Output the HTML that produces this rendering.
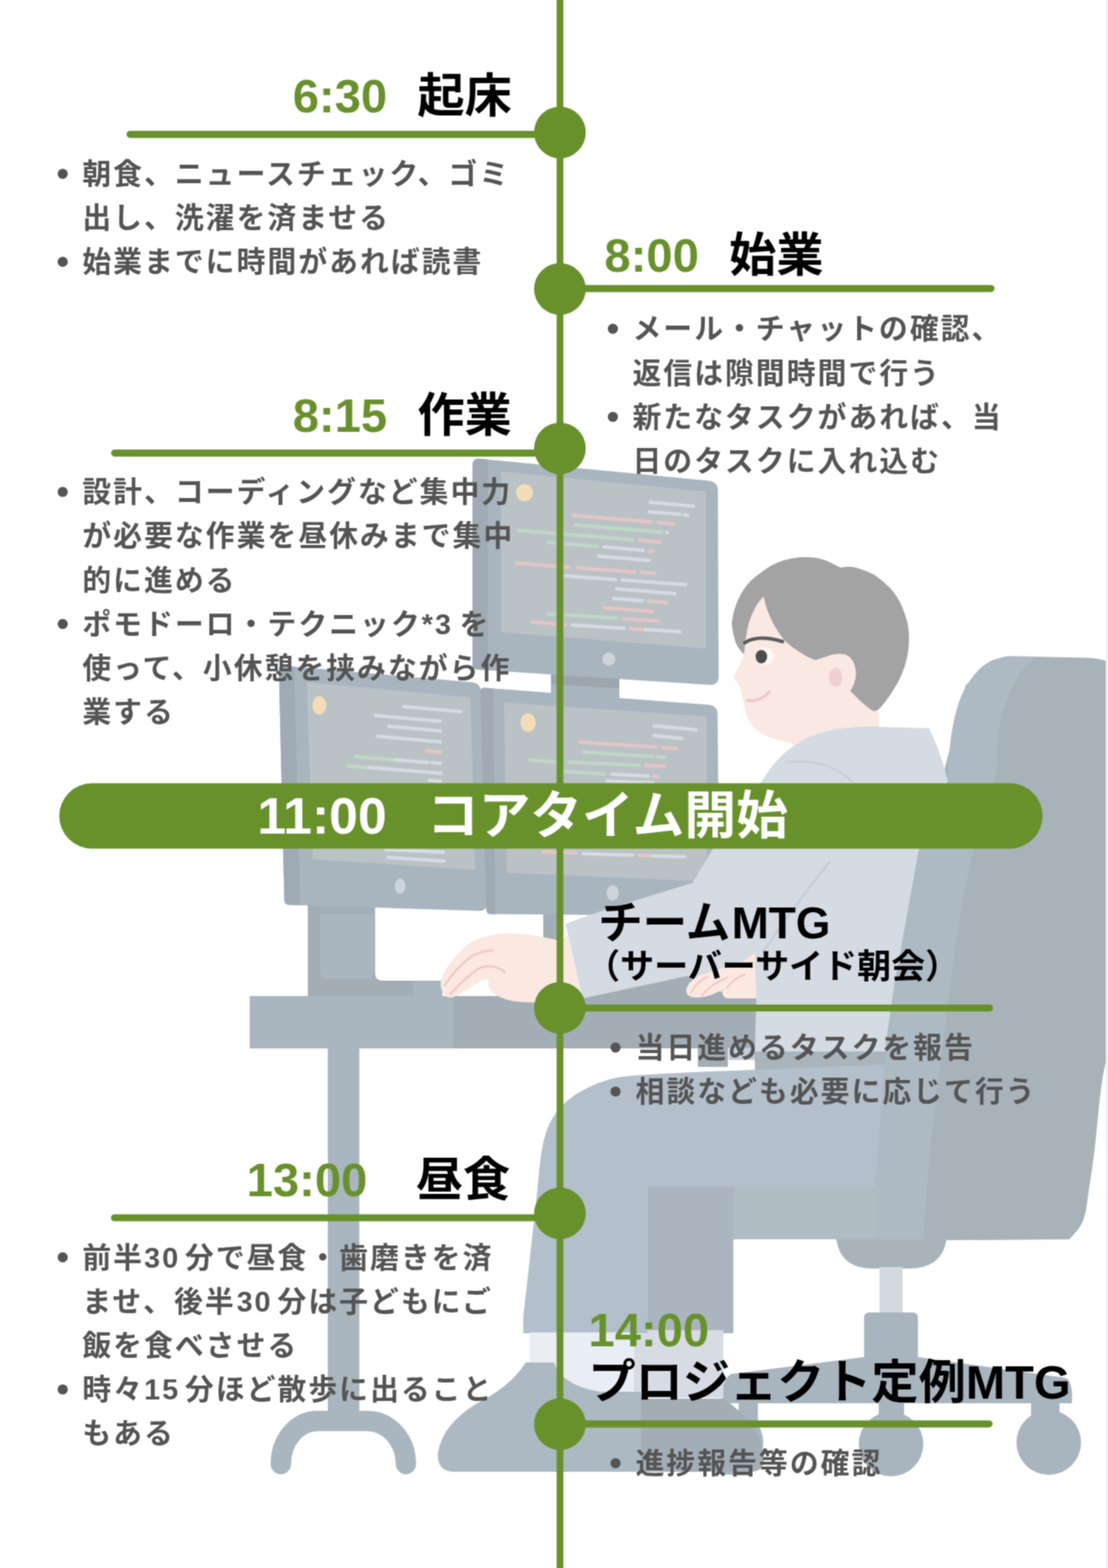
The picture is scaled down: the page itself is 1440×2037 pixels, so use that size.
<!DOCTYPE html>
<html lang="ja">
<head>
<meta charset="utf-8">
<title>エンジニアの1日のスケジュール</title>
<style>
html,body{margin:0;padding:0;background:#fff}
html{overflow:hidden}
body{width:1440px;height:2037px;overflow:hidden;font-family:"Liberation Sans",sans-serif}
#page{position:relative;width:1440px;height:2037px;overflow:hidden;background:#fff}
svg#art{position:absolute;left:-10px;top:-10px;display:block}
svg#art text{font-family:"Liberation Sans","Noto Sans CJK JP",sans-serif;font-weight:700}
svg#art text.b{font-size:37.5px;letter-spacing:2.59px;fill:#545454}
/* real text layer: kept in the DOM for content, SVG text above is what is painted */
#content{position:absolute;left:0;top:0;width:1440px;height:2037px;color:transparent;font-weight:700}
#content h2,#content p,#content ul{position:absolute;margin:0;padding:0;white-space:nowrap;font-weight:700}
#content ul{list-style:none;font-size:37.5px;line-height:57px;letter-spacing:2.59px}
#content li{margin:0;padding:0}
</style>
</head>
<body>
<div id="page">
<svg id="art" width="1460" height="2057" viewBox="-10 -10 1460 2057">
<defs>
<filter id="soft" filterUnits="userSpaceOnUse" x="-10" y="-10" width="1460" height="2057" color-interpolation-filters="sRGB"><feConvolveMatrix order="3" kernelMatrix="0.0509 0.1238 0.0509 0.1238 0.3012 0.1238 0.0509 0.1238 0.0509" edgeMode="duplicate"/></filter>
</defs>
<g filter="url(#soft)">
<rect x="-10" y="-10" width="1460" height="2057" fill="#fff"/>
<g id="illustration" stroke-linejoin="round" stroke-linecap="round">

<!-- ===== chair ===== -->
<g id="chair">
  <!-- back shell (darker) -->
  <path d="M1340 853L1412 854.5C1426 855 1436 858 1450 862L1450 1368L1440 1368C1438.8 1373.3 1435.0 1388.0 1433.0 1400.0C1431.0 1412.0 1429.7 1425.0 1428.0 1440.0C1426.3 1455.0 1425.0 1473.3 1423.0 1490.0C1421.0 1506.7 1418.5 1524.2 1416.0 1540.0C1413.5 1555.8 1412.3 1573.3 1408.0 1585.0C1403.7 1596.7 1393.0 1605.8 1390.0 1610.0L1120 1612L1165 1215L1225 1010L1255 890L1305 853Z" fill="#a8b2b9"/>
  <!-- front face of the back (lighter strip) -->
  <path d="M1310.8 852.3C1306.7 853.5 1293.6 855.3 1286.0 859.6C1278.4 863.9 1271.3 870.0 1265.0 878.0C1258.7 886.0 1252.5 896.3 1248.0 907.5C1243.5 918.7 1240.5 931.8 1238.0 945.0C1235.5 958.2 1234.1 974.5 1232.7 986.7C1231.3 998.9 1236.1 998.3 1229.6 1018.0C1223.1 1037.7 1203.7 1072.2 1193.8 1105.0C1183.9 1137.8 1176.5 1175.8 1170.0 1215.0C1163.5 1254.2 1159.8 1300.8 1155.0 1340.0C1150.2 1379.2 1144.3 1416.7 1141.0 1450.0C1137.7 1483.3 1136.5 1513.0 1135.0 1540.0C1133.5 1567.0 1132.5 1600.0 1132.0 1612.0L1200.0 1612.0C1200.8 1600.0 1202.7 1567.0 1205.0 1540.0C1207.3 1513.0 1210.0 1483.3 1213.8 1450.0C1217.5 1416.7 1222.5 1379.2 1227.5 1340.0C1232.5 1300.8 1237.5 1254.2 1243.8 1215.0C1250.0 1175.8 1256.6 1139.6 1265.0 1105.0C1273.4 1070.4 1289.0 1029.0 1294.0 1007.5C1299.0 986.0 1294.0 987.8 1295.0 976.0C1296.0 964.2 1297.4 948.9 1300.0 936.7C1302.6 924.5 1306.2 913.8 1310.8 903.0C1315.4 892.2 1321.3 880.3 1327.5 872.0C1333.7 863.7 1344.6 856.2 1348.0 853.0Z" fill="#adbac3"/>
  <!-- seat cushion under the thigh -->
  <path d="M930 1538 L1140 1538 L1140 1610 L930 1610 Q905 1608 905 1574 Q905 1540 930 1538 Z" fill="#b0bcc3"/>
  <!-- mechanism -->
  <path d="M1087 1610 L1230 1610 Q1225 1648 1180 1648 L1135 1648 Q1092 1648 1087 1610 Z" fill="#a8b3ba"/>
  <!-- gas lift -->
  <rect x="1143" y="1646" width="30" height="62" fill="#d3d9e0"/>
  <!-- hub -->
  <rect x="1123" y="1705" width="70" height="70" rx="6" fill="#a9b5be"/>
  <!-- star base -->
  <path d="M1123 1763 L1193 1763 L1385 1790 Q1395 1795 1393 1823 L940 1823 Q935 1795 950 1785 Z" fill="#a9b5be"/>
  <!-- caster stems -->
  <rect x="1142" y="1820" width="33" height="36" fill="#a9b5be"/>
  <rect x="1340" y="1820" width="37" height="30" fill="#a9b5be"/>
  <rect x="960" y="1820" width="25" height="30" fill="#a9b5be"/>
  <!-- casters -->
  <circle cx="1158" cy="1876" r="42" fill="#a9b5be"/>
  <circle cx="1363" cy="1874" r="42" fill="#a9b5be"/>
  <circle cx="950" cy="1874" r="42" fill="#a9b5be"/>
</g>

<!-- ===== desk ===== -->
<g id="desk">
  <rect x="426" y="1355" width="41" height="500" fill="#a9b6bf"/>
  <path d="M365 1902 A47.5 56 0 0 1 412.5 1846 L477.5 1846 A50 56 0 0 1 527.5 1902" fill="none" stroke="#a9b6bf" stroke-width="26.5"/>
  <rect x="324.5" y="1294" width="700" height="68" fill="#a9b6bf"/>
  <path d="M589 1294 L757 1294 L893 1266 L990 1266 L990 1362 L589 1362 Z" fill="#a3adb5"/>
</g>

<!-- ===== monitor stands ===== -->
<g id="stands">
  <path d="M400 1172 L487.5 1172 L487.5 1264 Q487.5 1274 497.5 1274 L537 1274 L537 1294 L400 1294 Z" fill="#a3adb6"/>
  <rect x="537" y="1274" width="38" height="20" fill="#a9b6bf"/>
  <path d="M416 1187 L486 1187 L486 1262 Q486 1272 476 1272 L426 1272 Q416 1272 416 1262 Z" fill="#a9b6bf"/>
  <rect x="706" y="1180" width="22" height="116" fill="#a3adb6"/>
  <rect x="716" y="872" width="89" height="40" fill="#a9b5be"/>
  <path d="M716 874 L805 880 L805 894 L716 889 Z" fill="#9ba6af"/>
</g>

<!-- ===== top monitor ===== -->
<g id="mon-top">
  <path d="M614 605 Q614 594.6 624 595.9 L921 624.4 Q933 625.6 933 637.6 L934 878.6 Q934 890.6 922 889.8 L620 869.8 Q614 869.4 614 863.4 Z" fill="#a9b5be"/>
  <path d="M614 605 Q614 594.6 624 595.9 L634 597 L634 870.7 L620 869.8 Q614 869.4 614 863.4 Z" fill="#9faab4"/>
  <path d="M651.3 612.5 L917.5 638.8 L917.5 842.5 L651.3 821.3 Z" fill="#bbc2c6"/>
  <circle cx="681.8" cy="640" r="11" fill="#f3dcb8"/>
  <circle cx="791.3" cy="856.3" r="8.5" fill="#cdd4dc"/>
</g>

<!-- ===== bottom-left monitor ===== -->
<g id="mon-bl">
  <path d="M362.5 870.5 Q362.5 864.3 368.5 864.8 L612.8 886.3 Q624.8 887.4 625.1 899.4 L633 1171.8 Q633.3 1183.8 621.3 1183.3 L375.5 1175.5 Q369.8 1175.3 369.5 1169.5 Z" fill="#a9b5be"/>
  <path d="M362.5 870.5 Q362.5 864.3 368.5 864.6 L382.5 865.9 L390 1176 L375.5 1175.5 Q369.8 1175.3 369.5 1169.5 Z" fill="#9faab4"/>
  <path d="M398.8 886.5 L611.3 906.3 L617.5 1130 L406.3 1116.3 Z" fill="#bbc2c6"/>
  <ellipse cx="415" cy="916.3" rx="9" ry="12" fill="#f3dcb8"/>
  <ellipse cx="520" cy="1151.3" rx="7" ry="10" fill="#cdd4dc"/>
</g>

<!-- ===== bottom-right monitor ===== -->
<g id="mon-br">
  <path d="M624 899.5 Q624 893 630 893.5 L920.5 915.4 Q932.5 916.3 932.6 928.3 L935 1178 Q935 1190 923 1189.9 L638 1187.5 Q632.2 1187.5 632 1181.5 Z" fill="#a9b5be"/>
  <path d="M624 899.5 Q624 893 630 893.5 L641 894.5 L644 1187.6 L638 1187.5 Q632.2 1187.5 632 1181.5 Z" fill="#9faab4"/>
  <path d="M655 912.5 L918.8 931 L918.8 1145 L658.8 1133.8 Z" fill="#bbc2c6"/>
  <ellipse cx="686.3" cy="938.8" rx="10" ry="12" fill="#f3dcb8"/>
  <ellipse cx="796.3" cy="1160" rx="8" ry="10" fill="#cdd4dc"/>
</g>

<g id="code" fill="none" stroke-width="4.6" stroke-linecap="round">
<path stroke="#d6dbe3" d="M845.2 652.5L901.0 657.5M844.0 665.0L883.5 668.0M889.0 668.8L893.5 669.5M866.5 691.8L867.2 692.2M785.2 710.5L836.0 715.0M777.8 722.5L843.5 728.0M734.0 748.0L799.8 753.0M809.0 753.5L891.0 759.5M801.5 765.0L877.2 771.2M797.8 777.5L834.8 780.5M744.0 812.0L811.0 816.2M837.8 817.8L883.5 820.8M525.2 918.0L598.5 924.5M487.8 929.5L572.2 937.0M505.2 943.5L572.2 949.5M490.2 956.5L572.2 963.8M512.8 987.0L556.0 990.5M561.5 990.8L572.2 991.8M477.8 997.0L573.5 1004.5M557.8 1013.8L572.2 1015.0M501.5 1103.8L576.0 1107.0M504.0 1113.8L577.2 1118.8M850.2 943.0L904.8 948.0M850.2 955.8L886.0 959.2M795.2 1005.8L842.2 1008.2M789.0 1014.5L848.5 1017.0M757.8 1109.0L822.2 1111.0M847.8 1111.8L889.8 1113.0"/>
<path stroke="#e4c6c4" d="M745.2 669.5L846.0 678.0M855.2 678.8L876.0 680.8M831.5 702.0L857.2 704.2M844.0 715.8L848.5 716.5M671.5 731.5L739.8 737.0M750.2 737.5L824.8 743.2M834.0 743.5L851.0 745.0M842.8 780.8L866.0 782.8M785.2 789.5L848.5 794.5M810.2 803.8L856.0 807.0M691.5 808.0L734.8 811.5M820.2 816.8L834.8 817.8M554.0 975.0L572.2 977.0M754.0 964.0L852.2 970.5M861.5 971.0L879.8 972.5M839.0 994.2L863.5 995.5M849.0 1008.5L854.8 1009.0M706.5 1106.5L748.5 1108.0M830.2 1111.2L844.8 1111.8"/>
<path stroke="#bed8c6" d="M747.8 682.0L859.8 691.2M674.0 689.0L822.2 701.2M712.8 704.5L776.0 710.0M712.8 797.5L801.0 803.0M461.5 983.0L509.8 987.0M452.8 995.0L474.8 997.0M757.8 977.0L848.5 983.0M854.0 983.2L863.5 984.0M689.0 987.0L721.0 989.8M739.0 990.0L831.0 994.2M734.0 1002.0L786.0 1005.5"/>
</g>


<!-- ===== person ===== -->
<g id="person">
  <!-- far leg, sock, shoe -->
  <rect x="838" y="1537" width="115" height="195" fill="#aab5bf"/>
  <rect x="824" y="1728" width="116" height="88" fill="#d7dce4"/>
  <path d="M833 1817 L940 1817 Q990 1850 993 1895 Q993 1912 975 1912 L833 1912 Z" fill="#a3adb6"/>
  <!-- near leg -->
  <path d="M981 1364 L1152 1364 L1150 1390 L981 1390 Z" fill="#a9b4bd"/>
  <rect x="907" y="1360" width="39" height="26" fill="#a3adb5"/>
  <rect x="947" y="1361" width="34" height="16" fill="#c3ccd6"/>
  <path d="M1150.0 1383.0C1125.0 1384.0 1041.7 1387.3 1000.0 1389.0C958.3 1390.7 928.8 1391.7 900.0 1393.0C871.2 1394.3 844.8 1395.5 827.0 1397.0C809.2 1398.5 804.2 1399.0 793.0 1402.0C781.8 1405.0 769.7 1410.0 760.0 1415.0C750.3 1420.0 742.0 1425.7 735.0 1432.0C728.0 1438.3 722.5 1445.5 718.0 1453.0C713.5 1460.5 710.7 1467.5 708.0 1477.0C705.3 1486.5 703.8 1496.2 702.0 1510.0C700.2 1523.8 699.3 1538.3 697.0 1560.0C694.7 1581.7 690.8 1614.5 688.0 1640.0C685.2 1665.5 681.3 1700.8 680.0 1713.0L680 1732L842 1732L842 1542L1137 1542Z" fill="#b3bfca"/>
  <!-- sock -->
  <rect x="688" y="1731" width="136" height="78" fill="#e9eef5"/>
  <!-- near shoe -->
  <path d="M683 1770 L720 1770 Q730 1800 780 1808 L833 1808 L833 1912 L590 1912 Q568 1912 569 1888 Q575 1850 620 1823 Q665 1800 683 1770 Z" fill="#adb9c2"/>
  <!-- neck + face -->
  <path d="M960 800 L967 850 Q963 862 956 874 Q952 880 955.5 884 Q961 889 962.5 897 L965.5 908 Q967 918 969 925 C972 934 976 941 983 948 C992 956 1008 962 1027 965 L1060 985 L1145 975 L1140 900 L1110 840 L1000 770 Z" fill="#fae8e3"/>
  <!-- hands (under the sleeve) -->
  <path d="M572.5 1277 C575 1262 590 1243 606.7 1228 C618 1219 640 1213 660 1212.5 C680 1212 700 1216 726.7 1221.7 L738 1215 L757 1297 C740 1303 700 1304 670 1301 C655 1299 640 1292 636 1284 C634 1278 636 1273 633 1271.7 C620 1275 605 1288 590 1295 C580 1299 573 1290 572.5 1277 Z" fill="#fae8e1"/>
  <path d="M578.3 1280 Q593 1256 615 1241 Q628 1235 640 1234.7 M585 1291.7 Q601 1273 621.7 1258.5 Q640 1250 655.8 1262.5" fill="none" stroke="#f1c9c9" stroke-width="3"/>
  <!-- torso / shirt -->
  <path d="M990 1015 Q1008 985 1030 970 Q1050 955 1075 950 Q1100 944 1125 943.8 L1207.5 946 Q1222 975 1232 1015 L1194 1104 L1162 1281 L1150 1366 L981 1366 L983 1297 L955 1297 L893 1268 L757 1297 L735 1200 L780 1184 L900 1147 L927 1102 Z" fill="#d5dbe2"/>
  <path d="M1078 1120 Q1030 1180 992 1236" fill="none" stroke="#c6cdd6" stroke-width="3"/>
  <path d="M892 1287 C892 1277 905 1268 915 1265 C935 1259 955 1254 967 1248 L981 1238 L983 1297 L945 1297 C938 1295 938 1289 941 1285 C930 1290 920 1296 905 1296 C897 1296 892 1293 892 1287 Z" fill="#fae8e1"/>
  <path d="M898 1290 Q905 1275 920 1269 M912 1293 Q925 1278 945 1270 M945 1283 Q955 1270 968 1266" fill="none" stroke="#f1c9c9" stroke-width="2.5"/>
  <!-- ear -->
  <ellipse cx="1092" cy="876" rx="17" ry="25" fill="#fae8e3"/>
  <ellipse cx="1086" cy="880" rx="9" ry="12.5" fill="#f2d0d0"/>
  <!-- hair -->
  <path d="M951 810 Q953 790 962.5 772.5 Q972 755 987.5 745 Q1002 733 1020 727.5 Q1035 723 1050 723.8 Q1063 724 1075 728.8 L1092.5 737.5 Q1102 735 1112.5 737.5 Q1126 741 1137.5 747.5 Q1150 756 1160 767.5 Q1170 780 1175 795 Q1181 810 1181.3 825 Q1182 843 1177.5 860 Q1173 876 1165 890 Q1158 902 1150 912.5 L1143 920.5 Q1137.5 926.5 1131.5 921.5 L1120 912.5 L1105 897.5 Q1112 888 1112.5 875 Q1112 864 1107.5 857.5 Q1103 851 1097.5 850 Q1086 848 1075 852.5 L1060 857.5 Q1049 854 1040 847.5 Q1029 841 1020 832.5 Q1011 822 1005 810 Q996 793 992.5 775 Q985 782 980 792.5 Q974 804 971.3 817.5 Q968 833 967 850 Q960 844 956.3 835 Q952 823 951 810 Z" fill="#a3a3a3"/>
  <!-- eye -->
  <ellipse cx="993.8" cy="852.5" rx="12" ry="11" fill="#fdf8f5"/>
  <ellipse cx="989.5" cy="853" rx="7.5" ry="8.8" fill="#4d4d4d"/>
  <!-- eyebrow -->
  <path d="M968 835 Q985 824 1017 833.5" fill="none" stroke="#5c5c5c" stroke-width="4.5"/>
  <!-- mouth -->
  <path d="M971.5 910 Q988 912 1000 899" fill="none" stroke="#f1c6ca" stroke-width="3.8"/>
  <!-- collar line -->
  <path d="M1025 990 Q1075 985 1107 1015" fill="none" stroke="#c9cfd8" stroke-width="3"/>
</g>

<!-- page edge -->
<rect x="1437" y="-10" width="13" height="2057" fill="#eef0f2"/>
</g>

<g id="timeline" fill="#68912c" stroke="#68912c">
<rect x="723.4" y="-10" width="8.8" height="2057" stroke="none"/>
<g stroke-width="9.2" stroke-linecap="round" fill="none">
<line x1="169" y1="174.6" x2="727" y2="174.6"/>
<line x1="727" y1="374.8" x2="1288" y2="374.8"/>
<line x1="149" y1="588.6" x2="727" y2="588.6"/>
<line x1="727" y1="1309.5" x2="1286" y2="1309.5"/>
<line x1="148.8" y1="1582" x2="727" y2="1582"/>
<line x1="727" y1="1849.8" x2="1285.4" y2="1849.8"/>
</g>
<g stroke="none">
<circle cx="727.7" cy="172.1" r="33.6"/>
<circle cx="727.7" cy="375.4" r="33.6"/>
<circle cx="727.7" cy="582.5" r="33.6"/>
<circle cx="727.7" cy="1309.3" r="33.6"/>
<circle cx="727.7" cy="1576.3" r="33.6"/>
<circle cx="727.7" cy="1850.2" r="33.6"/>
<rect x="77" y="1017.5" width="1278" height="85" rx="42.5"/>
</g>
</g>

<g id="glyphs">
<text y="146.3" font-size="61.3"><tspan x="380.45" fill="#68912c">6:30</tspan><tspan x="542.4" fill="#000">起床</tspan></text>
<text class="b" x="107" y="239">朝食、ニュースチェック、ゴミ</text>
<text class="b" x="107" y="296.2">出し、洗濯を済ませる</text>
<text class="b" x="107" y="353.4">始業までに時間があれば読書</text>
<text y="352.5" font-size="61.3"><tspan x="785.6" fill="#68912c">8:00</tspan><tspan x="947.6" fill="#000">始業</tspan></text>
<text class="b" x="822" y="440.3">メール・チャットの確認、</text>
<text class="b" x="822" y="497.5">返信は隙間時間で行う</text>
<text class="b" x="822" y="554.7">新たなタスクがあれば、当</text>
<text class="b" x="822" y="611.9">日のタスクに入れ込む</text>
<text y="561" font-size="61.3"><tspan x="380.45" fill="#68912c">8:15</tspan><tspan x="542.4" fill="#000">作業</tspan></text>
<text class="b" x="107" y="652.2">設計、コーディングなど集中力</text>
<text class="b" x="107" y="709.4">が必要な作業を昼休みまで集中</text>
<text class="b" x="107" y="766.6">的に進める</text>
<text class="b" y="823.8"><tspan x="107">ポモドーロ・テクニック*3</tspan><tspan x="597.3">を</tspan></text>
<text class="b" x="107" y="881">使って、小休憩を挟みながら作</text>
<text class="b" x="107" y="938.2">業する</text>
<text y="1083" font-size="67.2" fill="#fff"><tspan x="334.4">11:00</tspan><tspan x="554.95">コアタイム開始</tspan></text>
<text y="1219.3" font-size="57.8" fill="#000"><tspan x="777.5">チーム</tspan><tspan x="950.9">MTG</tspan></text>
<text x="761.8" y="1270.9" font-size="44.2" fill="#000">（サーバーサイド朝会）</text>
<text class="b" x="826" y="1374">当日進めるタスクを報告</text>
<text class="b" x="826" y="1431.2">相談なども必要に応じて行う</text>
<text y="1553.6" font-size="61.3"><tspan x="320.58" fill="#68912c">13:00</tspan><tspan x="540.4" fill="#000">昼食</tspan></text>
<text class="b" y="1646.6"><tspan x="107">前半</tspan><tspan x="187.2">30</tspan><tspan x="240.35">分で昼食・歯磨きを済</tspan></text>
<text class="b" y="1703.8"><tspan x="107">ませ、後半</tspan><tspan x="307.4">30</tspan><tspan x="360.6">分は子どもにご</tspan></text>
<text class="b" x="107" y="1761">飯を食べさせる</text>
<text class="b" y="1818.2"><tspan x="107">時々</tspan><tspan x="187.2">15</tspan><tspan x="240.35">分ほど散歩に出ること</tspan></text>
<text class="b" x="107" y="1875.4">もある</text>
<text x="764.8" y="1748.6" font-size="61.3" fill="#68912c">14:00</text>
<text y="1817.2" font-size="61.3" fill="#000"><tspan x="764.8">プロジェクト定例</tspan><tspan x="1255.2">MTG</tspan></text>
<text class="b" x="826" y="1914">進捗報告等の確認</text>
<g fill="#545454"><circle cx="81.5" cy="225.8" r="6.6"/><circle cx="81.5" cy="340.2" r="6.6"/><circle cx="796.5" cy="427.1" r="6.6"/><circle cx="796.5" cy="541.5" r="6.6"/><circle cx="81.5" cy="639.0" r="6.6"/><circle cx="81.5" cy="810.6" r="6.6"/><circle cx="800.0" cy="1360.8" r="6.6"/><circle cx="800.0" cy="1418.0" r="6.6"/><circle cx="81.5" cy="1633.4" r="6.6"/><circle cx="81.5" cy="1805.0" r="6.6"/><circle cx="800.0" cy="1900.8" r="6.6"/></g>
</g>
</g>
</svg>
<main id="content">
<section aria-label="6:30 起床">
<h2 style="left:380.4px;top:87.5px;font-size:61.3px;line-height:73.6px"><span class="t">6:30 </span>起床</h2>
<ul style="left:73.5px;top:196.9px;padding-left:33.5px"><li>朝食、ニュースチェック、ゴミ<br>出し、洗濯を済ませる</li><li>始業までに時間があれば読書</li></ul>
</section>
<section aria-label="8:00 始業">
<h2 style="left:785.6px;top:293.7px;font-size:61.3px;line-height:73.6px"><span class="t">8:00 </span>始業</h2>
<ul style="left:788.5px;top:398.2px;padding-left:33.5px"><li>メール・チャットの確認、<br>返信は隙間時間で行う</li><li>新たなタスクがあれば、当<br>日のタスクに入れ込む</li></ul>
</section>
<section aria-label="8:15 作業">
<h2 style="left:380.4px;top:502.2px;font-size:61.3px;line-height:73.6px"><span class="t">8:15 </span>作業</h2>
<ul style="left:73.5px;top:610.1px;padding-left:33.5px"><li>設計、コーディングなど集中力<br>が必要な作業を昼休みまで集中<br>的に進める</li><li>ポモドーロ・テクニック*3を<br>使って、小休憩を挟みながら作<br>業する</li></ul>
</section>
<section aria-label="11:00 コアタイム開始">
<h2 style="left:334.4px;top:1018.5px;font-size:67.2px;line-height:80.6px">11:00 コアタイム開始</h2>
</section>
<section aria-label="チームMTG">
<h2 style="left:777.5px;top:1163.8px;font-size:57.8px;line-height:69.4px">チームMTG</h2>
<p style="left:761.8px;top:1228.5px;font-size:44.2px;line-height:53.0px">（サーバーサイド朝会）</p>
<ul style="left:792.0px;top:1331.9px;padding-left:34.0px"><li>当日進めるタスクを報告</li><li>相談なども必要に応じて行う</li></ul>
</section>
<section aria-label="13:00 昼食">
<h2 style="left:320.6px;top:1494.8px;font-size:61.3px;line-height:73.6px"><span class="t">13:00  </span>昼食</h2>
<ul style="left:73.5px;top:1604.5px;padding-left:33.5px"><li>前半30分で昼食・歯磨きを済<br>ませ、後半30分は子どもにご<br>飯を食べさせる</li><li>時々15分ほど散歩に出ること<br>もある</li></ul>
</section>
<section aria-label="14:00 プロジェクト定例MTG">
<h2 style="left:764.8px;top:1689.8px;font-size:61.3px;line-height:73.6px"><span class="t">14:00</span></h2>
<h2 style="left:764.8px;top:1758.4px;font-size:61.3px;line-height:73.6px">プロジェクト定例MTG</h2>
<ul style="left:792.0px;top:1871.9px;padding-left:34.0px"><li>進捗報告等の確認</li></ul>
</section>
</main>
</div>
</body>
</html>
